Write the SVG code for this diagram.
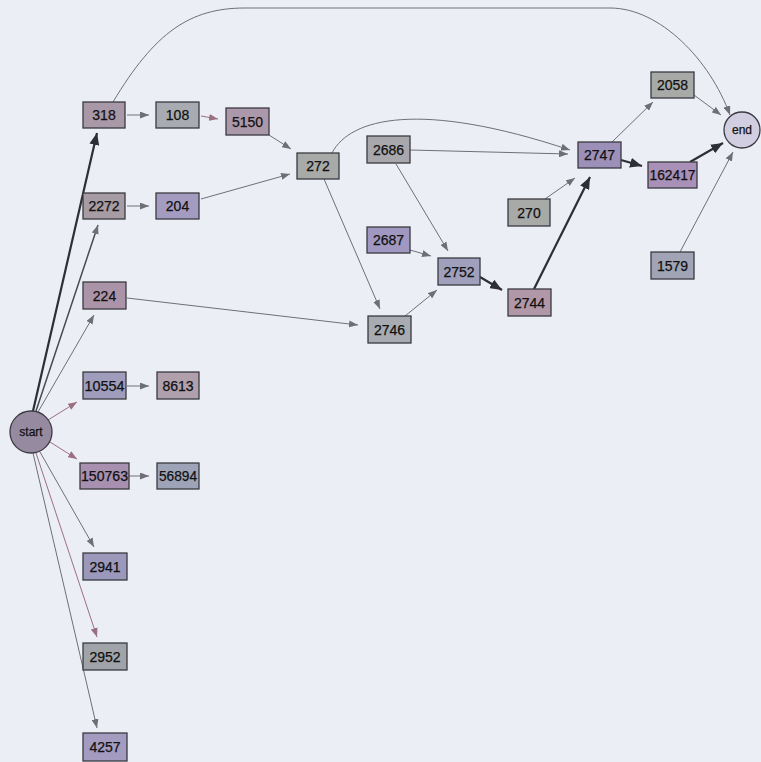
<svg xmlns="http://www.w3.org/2000/svg" width="761" height="762" viewBox="0 0 761 762">
<style>
.n rect{stroke:#3a3a40;stroke-width:1.3}
.n text{font-family:"Liberation Sans",Arial,sans-serif;font-size:14px;fill:#111;stroke:#111;stroke-width:0.25;text-anchor:middle;dominant-baseline:central}
.n text.s{font-size:12px}
.e{fill:none;stroke:#6e6e78;stroke-width:1}
.r{stroke:#9a6f80}
.k{stroke:#2e2e36;stroke-width:2.2}
.m{stroke:#4a4a52;stroke-width:1.5}
</style>
<defs>
<marker id="a" markerUnits="userSpaceOnUse" markerWidth="9" markerHeight="7" refX="9" refY="3.5" orient="auto"><path d="M0,0L9,3.5L0,7z" fill="#6e6e78"/></marker>
<marker id="ar" markerUnits="userSpaceOnUse" markerWidth="9" markerHeight="7" refX="9" refY="3.5" orient="auto"><path d="M0,0L9,3.5L0,7z" fill="#9a6f80"/></marker>
<marker id="b" markerUnits="userSpaceOnUse" markerWidth="12" markerHeight="10" refX="12" refY="5" orient="auto"><path d="M0,0L12,5L0,10z" fill="#2e2e36"/></marker>
</defs>
<rect width="761" height="762" fill="#eceef6"/>
<g id="edges">
<path class="e k" d="M33,411 L97,133" marker-end="url(#b)"/>
<path class="e m" d="M36,411 L98,225" marker-end="url(#a)"/>
<path class="e" d="M38,412 L94,315" marker-end="url(#a)"/>
<path class="e r" d="M48,420 L77,402" marker-end="url(#ar)"/>
<path class="e r" d="M50,442 L77,459" marker-end="url(#ar)"/>
<path class="e" d="M40,452 L94,547" marker-end="url(#a)"/>
<path class="e r" d="M36,453 L97,637" marker-end="url(#ar)"/>
<path class="e" d="M33,453 L97,728" marker-end="url(#a)"/>
<path class="e" d="M127,115 L149,115" marker-end="url(#a)"/>
<path class="e r" d="M201,116 L218,119" marker-end="url(#ar)"/>
<path class="e" d="M269,135 L291,149" marker-end="url(#a)"/>
<path class="e" d="M127,206 L149,206" marker-end="url(#a)"/>
<path class="e" d="M201,199 L290,174" marker-end="url(#a)"/>
<path class="e" d="M113,102 C155,32 190,8 245,8 L610,8 C660,8 710,60 730,115" marker-end="url(#a)"/>
<path class="e" d="M332,153 C350,118 420,100 570,150" marker-end="url(#a)"/>
<path class="e" d="M410,150 L568,154" marker-end="url(#a)"/>
<path class="e" d="M396,164 L448,251" marker-end="url(#a)"/>
<path class="e" d="M410,250 L431,256" marker-end="url(#a)"/>
<path class="e" d="M324,179 L380,309" marker-end="url(#a)"/>
<path class="e" d="M127,298 L358,325" marker-end="url(#a)"/>
<path class="e" d="M405,316 L437,290" marker-end="url(#a)"/>
<path class="e k" d="M480,277 L502,290" marker-end="url(#b)"/>
<path class="e k" d="M534,289 L590,177" marker-end="url(#b)"/>
<path class="e" d="M545,199 L575,178" marker-end="url(#a)"/>
<path class="e" d="M612,142 L653,102" marker-end="url(#a)"/>
<path class="e k" d="M621,160 L642,166" marker-end="url(#b)"/>
<path class="e" d="M694,95 L721,115" marker-end="url(#a)"/>
<path class="e k" d="M690,162 L723,143" marker-end="url(#b)"/>
<path class="e" d="M680,252 L733,152" marker-end="url(#a)"/>
<path class="e" d="M127,386 L149,386" marker-end="url(#a)"/>
<path class="e" d="M129,476 L149,476" marker-end="url(#a)"/>
</g>
<g id="start" class="n"><circle cx="31" cy="432" r="21" fill="#968aa0" stroke="#3a3a40" stroke-width="1.3"/><text class="s" x="31" y="432">start</text></g>
<g id="end" class="n"><circle cx="742" cy="130" r="18" fill="#d2cee2" stroke="#3a3a40" stroke-width="1.3"/><text class="s" x="742" y="130">end</text></g>
<g id="n318" class="n"><rect x="83" y="102" width="42" height="26" fill="#a898a8"/><text x="104" y="115">318</text></g>
<g id="n108" class="n"><rect x="156" y="102" width="43" height="26" fill="#a8acb2"/><text x="177.5" y="115">108</text></g>
<g id="n5150" class="n"><rect x="226" y="108" width="43" height="27" fill="#ab98aa"/><text x="247.5" y="121.5">5150</text></g>
<g id="n272" class="n"><rect x="297" y="153" width="42" height="26" fill="#a8aaa8"/><text x="318" y="166">272</text></g>
<g id="n2272" class="n"><rect x="83" y="193" width="42" height="26" fill="#a89ca4"/><text x="104" y="206">2272</text></g>
<g id="n204" class="n"><rect x="156" y="193" width="43" height="26" fill="#a49cc0"/><text x="177.5" y="206">204</text></g>
<g id="n2686" class="n"><rect x="367" y="136" width="43" height="27" fill="#a8a8ac"/><text x="388.5" y="149.5">2686</text></g>
<g id="n2687" class="n"><rect x="367" y="227" width="43" height="26" fill="#a098c0"/><text x="388.5" y="240">2687</text></g>
<g id="n2752" class="n"><rect x="438" y="258" width="42" height="27" fill="#a0a0bc"/><text x="459" y="271.5">2752</text></g>
<g id="n2746" class="n"><rect x="368" y="316" width="43" height="27" fill="#a8acb2"/><text x="389.5" y="329.5">2746</text></g>
<g id="n2744" class="n"><rect x="508" y="289" width="43" height="27" fill="#b098a8"/><text x="529.5" y="302.5">2744</text></g>
<g id="n2747" class="n"><rect x="578" y="142" width="43" height="26" fill="#9c90b8"/><text x="599.5" y="155">2747</text></g>
<g id="n2058" class="n"><rect x="651" y="72" width="43" height="26" fill="#a8aaa8"/><text x="672.5" y="85">2058</text></g>
<g id="n162417" class="n"><rect x="648" y="162" width="49" height="26" fill="#a890b8"/><text x="672.5" y="175" textLength="46" lengthAdjust="spacingAndGlyphs">162417</text></g>
<g id="n270" class="n"><rect x="508" y="199" width="42" height="27" fill="#a8aaa8"/><text x="529" y="212.5">270</text></g>
<g id="n1579" class="n"><rect x="651" y="252" width="43" height="27" fill="#a0a4b4"/><text x="672.5" y="265.5">1579</text></g>
<g id="n224" class="n"><rect x="83" y="282" width="43" height="27" fill="#ac94a8"/><text x="104.5" y="295.5">224</text></g>
<g id="n10554" class="n"><rect x="83" y="372" width="43" height="27" fill="#a09cbc"/><text x="104.5" y="385.5" textLength="40" lengthAdjust="spacingAndGlyphs">10554</text></g>
<g id="n8613" class="n"><rect x="157" y="372" width="42" height="27" fill="#b0a0ac"/><text x="178" y="385.5">8613</text></g>
<g id="n150763" class="n"><rect x="80" y="463" width="49" height="26" fill="#a890b0"/><text x="104.5" y="476" textLength="47" lengthAdjust="spacingAndGlyphs">150763</text></g>
<g id="n56894" class="n"><rect x="157" y="463" width="42" height="26" fill="#9ea4b8"/><text x="178" y="476" textLength="38" lengthAdjust="spacingAndGlyphs">56894</text></g>
<g id="n2941" class="n"><rect x="83" y="553" width="44" height="27" fill="#9c98bc"/><text x="105" y="566.5">2941</text></g>
<g id="n2952" class="n"><rect x="83" y="643" width="44" height="27" fill="#a0a4a8"/><text x="105" y="656.5">2952</text></g>
<g id="n4257" class="n"><rect x="83" y="733" width="44" height="28" fill="#a49cc0"/><text x="105" y="747">4257</text></g>
</svg>
